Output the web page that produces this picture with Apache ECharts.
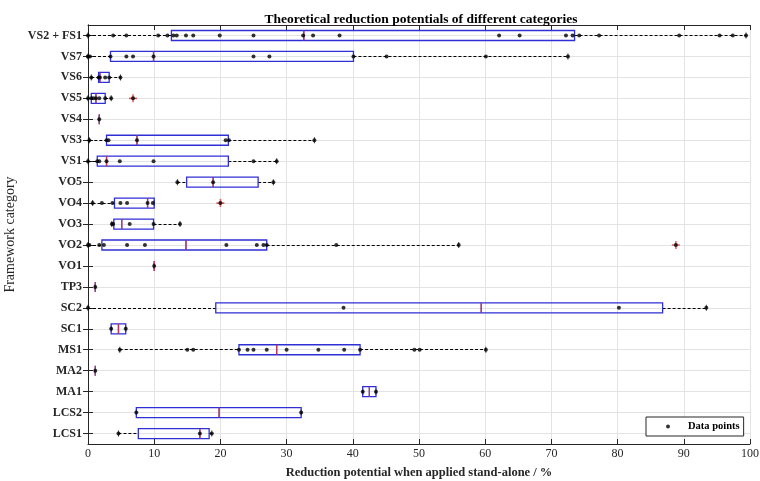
<!DOCTYPE html>
<html>
<head>
<meta charset="utf-8">
<script src="https://cdn.jsdelivr.net/npm/echarts@6/dist/echarts.min.js"></script>
<style>
  html, body { margin: 0; padding: 0; background: #fff; }
  #chart { width: 760px; height: 481px; }
</style>
</head>
<body>
<div id="chart"></div>
<script>
const categories = ["LCS1", "LCS2", "MA1", "MA2", "MS1", "SC1", "SC2", "TP3", "VO1", "VO2",
  "VO3", "VO4", "VO5", "VS1", "VS3", "VS4", "VS5", "VS6", "VS7", "VS2 + FS1"];
const xTicks = [0, 10, 20, 30, 40, 50, 60, 70, 80, 90, 100];

// box statistics, one entry per category (bottom to top)
const whiskerLow  = [4.6, 7.3, 41.5, 1.1, 4.8, 3.5, 0, 1.1, 10, 0, 3.6, 0.7, 13.5, 0, 0.2, 1.7, 0, 0.5, 0, 0];
const quart1      = [7.6, 7.3, 41.5, 1.1, 22.8, 3.5, 19.3, 1.1, 10, 2.1, 3.9, 4.0, 14.9, 1.4, 2.8, 1.7, 0.5, 1.6, 3.4, 12.6];
const medians     = [16.9, 19.8, 42.5, 1.1, 28.5, 4.6, 59.4, 1.1, 10, 14.8, 5.1, 9.0, 18.9, 2.8, 7.4, 1.7, 1.2, 1.8, 9.9, 32.6];
const quart3      = [18.3, 32.2, 43.5, 1.1, 41.1, 5.7, 86.8, 1.1, 10, 27.0, 9.9, 10.0, 25.7, 21.2, 21.2, 1.7, 2.6, 3.2, 40.1, 73.5];
const whiskerHigh = [18.7, 32.2, 43.5, 1.1, 60.1, 5.7, 93.4, 1.1, 10, 56.0, 13.9, 10.0, 28.0, 28.5, 34.2, 1.7, 3.5, 4.9, 72.5, 99.4];

// outliers (red +)
const outlierCats = ["VS5", "VO4", "VO2"];
const outlierVals = [6.8, 20.0, 88.8];

// individual data points
const ptsLCS1 = [4.6, 16.9, 18.7];
const ptsLCS2 = [7.3, 32.2];
const ptsMA1 = [41.5, 43.5];
const ptsMA2 = [1.1];
const ptsMS1 = [4.8, 15, 15.9, 22.8, 24.1, 25, 27, 30, 34.8, 38.7, 41.1, 49.3, 50.1, 60.1];
const ptsSC1 = [3.5, 5.7];
const ptsSC2 = [0, 38.6, 80.2, 93.4];
const ptsTP3 = [1.1];
const ptsVO1 = [10];
const ptsVO2 = [0, 0.2, 1.7, 2.4, 5.9, 8.6, 20.9, 25.5, 26.5, 27, 37.5, 56, 88.8];
const ptsVO3 = [3.6, 3.8, 6.3, 9.9, 13.9];
const ptsVO4 = [0.7, 2.1, 3.7, 4.9, 5.9, 9, 9.8, 20];
const ptsVO5 = [13.5, 18.9, 28];
const ptsVS1 = [0, 1.4, 1.7, 2.8, 4.8, 9.9, 25, 28.5];
const ptsVS3 = [0.2, 2.8, 3.1, 7.4, 20.8, 21.3, 34.2];
const ptsVS4 = [1.7];
const ptsVS5 = [0, 0.5, 0.8, 1.2, 1.7, 2.6, 3.5, 6.8];
const ptsVS6 = [0.5, 1.6, 1.8, 2.6, 3.2, 4.9];
const ptsVS7 = [0, 0, 0.3, 3.4, 5.8, 6.8, 9.9, 25, 27.4, 40.1, 45.1, 60.1, 72.5];
const ptsVS2FS1 = [0, 3.8, 5.8, 10.6, 12, 12.9, 13.4, 14.8, 15.9, 19.9, 25, 32.5, 34, 38,
  62.1, 65.2, 72.2, 73.2, 74.2, 77.2, 89.3, 95.4, 97.4, 99.4];

const pointsByCat = [ptsLCS1, ptsLCS2, ptsMA1, ptsMA2, ptsMS1, ptsSC1, ptsSC2, ptsTP3, ptsVO1, ptsVO2,
  ptsVO3, ptsVO4, ptsVO5, ptsVS1, ptsVS3, ptsVS4, ptsVS5, ptsVS6, ptsVS7, ptsVS2FS1];

const FONT = "Liberation Serif";
const AX = "#262626";
const BLUE = "#2f2fd6";
const RED = "#e03a3a";

// blue boxes (whiskers collapsed onto the box edges)
const boxData = categories.map((c, i) => [quart1[i], quart1[i], medians[i], quart3[i], quart3[i]]);
// dashed whiskers
const whiskerData = [];
categories.forEach((c, i) => {
  whiskerData.push({ coords: [[whiskerLow[i], i], [quart1[i], i]] });
  whiskerData.push({ coords: [[quart3[i], i], [whiskerHigh[i], i]] });
});
const capData = [];
categories.forEach((c, i) => {
  capData.push([whiskerLow[i], c]);
  capData.push([whiskerHigh[i], c]);
});
const medianData = categories.map((c, i) => [medians[i], c]);
const pointData = [];
pointsByCat.forEach((arr, i) => arr.forEach((v) => pointData.push([v, categories[i]])));
const outlierData = outlierCats.map((c, i) => [outlierVals[i], c]);

const chart = echarts.init(document.getElementById("chart"));
chart.setOption({
  animation: false,
  title: {
    text: "Theoretical reduction potentials of different categories",
    left: 416, top: 8, textAlign: "center",
    textStyle: { fontFamily: FONT, fontSize: 13.5, fontWeight: "bold", color: "#000" },
  },
  legend: {
    data: ["Data points"],
    left: 646, top: 417,
    padding: [4, 4, 4, 20],
    backgroundColor: "#fff", borderColor: AX, borderWidth: 1,
    itemWidth: 4, itemHeight: 4,
    textStyle: { fontFamily: FONT, fontSize: 10.5, fontWeight: "bold", color: "#000", padding: [0, 0, 0, 13] },
  },
  grid: { left: 88, right: 10, top: 25, bottom: 37, outerBoundsMode: "none", containLabel: false },
  xAxis: [
    {
      type: "value", min: 0, max: 100, interval: 10, position: "bottom",
      name: "Reduction potential when applied stand-alone / %",
      nameLocation: "middle", nameGap: 22,
      nameTextStyle: { fontFamily: FONT, fontSize: 12.5, fontWeight: "bold", color: AX },
      axisLine: { show: true, lineStyle: { color: AX } },
      axisTick: { show: true, inside: true, length: 5, lineStyle: { color: AX } },
      axisLabel: { fontFamily: FONT, fontSize: 12, color: AX, margin: 4,
        formatter: (v) => (xTicks.includes(v) ? String(v) : "") },
      splitLine: { show: true, lineStyle: { color: "#e3e3e3" } },
    },
    {
      type: "value", min: 0, max: 100, interval: 10, position: "top",
      axisLine: { show: true, lineStyle: { color: AX } },
      axisTick: { show: true, inside: true, length: 5, lineStyle: { color: AX } },
      axisLabel: { show: false }, splitLine: { show: false },
    },
  ],
  yAxis: [
    {
      type: "category", data: categories, position: "left",
      name: "Framework category", nameLocation: "middle", nameGap: 67, nameRotate: 90,
      nameTextStyle: { fontFamily: FONT, fontSize: 14, color: AX },
      axisLine: { show: true, lineStyle: { color: AX } },
      axisTick: { show: true, inside: true, length: 5, alignWithLabel: true, lineStyle: { color: AX } },
      axisLabel: { fontFamily: FONT, fontSize: 12, fontWeight: "bold", color: AX, margin: 6, interval: 0 },
      splitLine: { show: true, alignWithLabel: true, lineStyle: { color: "#e3e3e3" } },
    },
    {
      type: "category", data: categories, position: "right",
      axisLine: { show: true, lineStyle: { color: AX } },
      axisTick: { show: true, inside: true, length: 5, alignWithLabel: true, lineStyle: { color: AX } },
      axisLabel: { show: false }, splitLine: { show: false },
    },
  ],
  series: [
    {
      name: "whiskers", type: "lines", coordinateSystem: "cartesian2d",
      xAxisIndex: 0, yAxisIndex: 0, data: whiskerData, silent: true, z: 2,
      lineStyle: { color: "#000", width: 1, type: [3, 2], opacity: 1 },
    },
    {
      name: "caps", type: "scatter", data: capData, silent: true, z: 3,
      symbol: "rect", symbolSize: [1, 6], itemStyle: { color: "#000" },
    },
    {
      name: "boxes", type: "boxplot", data: boxData, silent: true, z: 4,
      boxWidth: [10, 10],
      itemStyle: { color: "rgba(0,0,0,0)", borderColor: BLUE, borderWidth: 1.3 },
    },
    {
      name: "medians", type: "scatter", data: medianData, silent: true, z: 5,
      symbol: "rect", symbolSize: [1.3, 10], itemStyle: { color: RED },
    },
    {
      name: "outliers", type: "scatter", data: outlierData, silent: true, z: 6,
      symbol: "path://M4,0 L6,0 L6,4 L10,4 L10,6 L6,6 L6,10 L4,10 L4,6 L0,6 L0,4 L4,4 Z",
      symbolSize: 8, itemStyle: { color: RED },
    },
    {
      name: "Data points", type: "scatter", data: pointData, z: 7,
      symbol: "circle", symbolSize: 4, itemStyle: { color: "#000" },
    },
  ],
});
</script>
</body>
</html>
